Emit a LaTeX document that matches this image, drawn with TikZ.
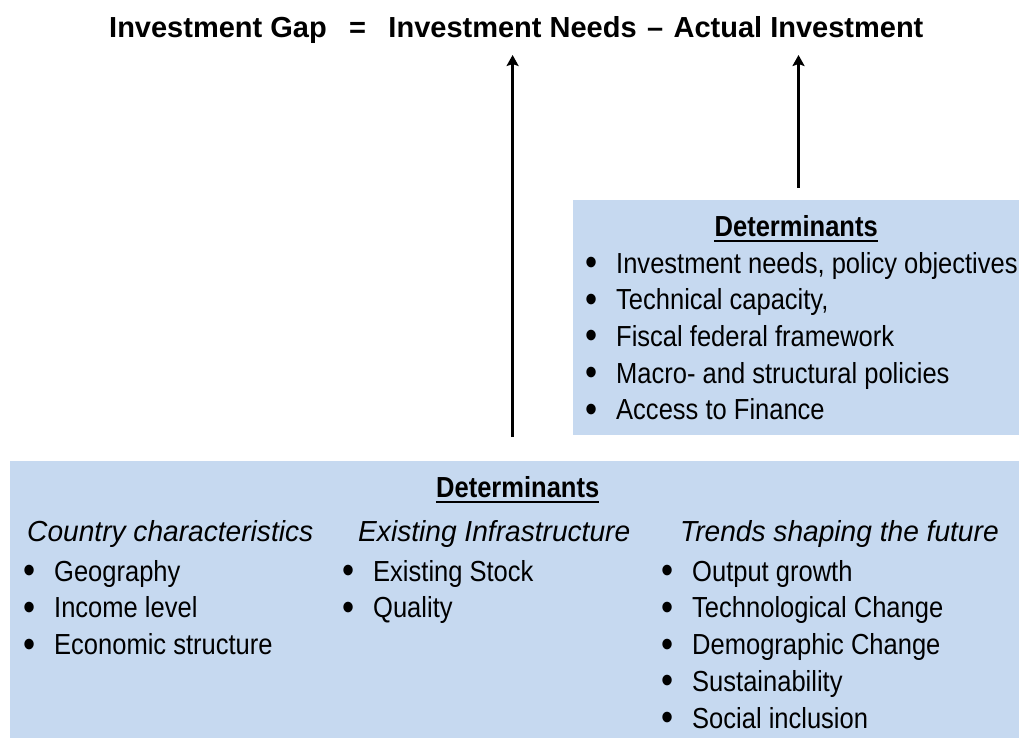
\documentclass[tikz,border=0pt]{standalone}
\usepackage{fontspec}
\setmainfont{Liberation Sans}[FakeStretch=0.88]
\newfontfamily\titlefont{Liberation Sans}
\newfontfamily\colfont{Liberation Sans}[FakeStretch=0.97]
\usetikzlibrary{positioning,calc,arrows.meta}
\definecolor{boxblue}{RGB}{198,217,240}
\newcommand{\bul}{\makebox[31pt][l]{\raisebox{-2.5pt}{\scalebox{1.35}{\textbullet}}}}

\begin{document}
\begin{tikzpicture}[x=1pt, y=-1pt,
  every node/.style={inner sep=0pt, font=\fontsize{29}{36}\selectfont},
  panel/.style={fill=boxblue, anchor=north west},
  titlepart/.style={anchor=base west, font=\titlefont\bfseries\fontsize{29}{34}\selectfont},
  head/.style={anchor=base, font=\bfseries\fontsize{29}{36}\selectfont},
  underbar/.style={line width=2.4pt},
  item/.style={anchor=base west},
  colhead/.style={anchor=base west, font=\colfont\itshape\fontsize{29}{36}\selectfont},
  uparrow/.style={line width=2.6pt, -{Stealth[length=11pt,width=12pt,inset=2pt]}}]
\useasboundingbox (0,0) rectangle (1019,738);

% equation at the top
\node[titlepart] (lhs) at (109,38) {Investment Gap};
\node[titlepart] (eq) at ($(lhs.base east)+(22,0)$) {=};
\node[titlepart] (needs) at ($(eq.base east)+(22,0)$) {Investment Needs};
\node[titlepart] (minus) at ($(needs.base east)+(10,0)$) {–};
\node[titlepart] (actual) at ($(minus.base east)+(10,0)$) {Actual Investment};

% panels
\node[panel, minimum width=446, minimum height=235] (upbox) at (573,200) {};
\node[panel, minimum width=1009, minimum height=277] (lowbox) at (10,461) {};

% upper determinants
\node[head] (uphead) at ($(upbox.north)+(0,36)$) {Determinants};
\draw[underbar] ($(uphead.base west)+(0,5)$) -- ($(uphead.base east)+(0,5)$);
\foreach \txt [count=\i] in {{Investment needs, policy objectives}, {Technical capacity,},
    {Fiscal federal framework}, {Macro- and structural policies}, {Access to Finance}}
  \node[item] (up\i) at (585,{273+36.7*(\i-1)}) {\bul\txt};

% lower determinants
\node[head] (lowhead) at ($(lowbox.north)+(3,36)$) {Determinants};
\draw[underbar] ($(lowhead.base west)+(0,5)$) -- ($(lowhead.base east)+(0,5)$);
\node[colhead] (country) at (27,541) {Country characteristics};
\node[colhead] (existing) at (358,541) {Existing Infrastructure};
\node[colhead] (trends) at (680,541) {Trends shaping the future};
\foreach \txt [count=\i] in {Geography, Income level, Economic structure}
  \node[item] (ca\i) at (23,{581+36.8*(\i-1)}) {\bul\txt};
\foreach \txt [count=\i] in {Existing Stock, Quality}
  \node[item] (ei\i) at (342,{581+36.8*(\i-1)}) {\bul\txt};
\foreach \txt [count=\i] in {Output growth, Technological Change, Demographic Change,
    Sustainability, Social inclusion}
  \node[item] (tr\i) at (661,{581+36.8*(\i-1)}) {\bul\txt};

% arrows
\draw[uparrow, shorten <=24pt, shorten >=17pt] (lowbox.north -| needs) -- (needs.base);
\draw[uparrow, shorten <=12pt, shorten >=17pt] (upbox.north -| actual) -- (actual.base);
\end{tikzpicture}
\end{document}
